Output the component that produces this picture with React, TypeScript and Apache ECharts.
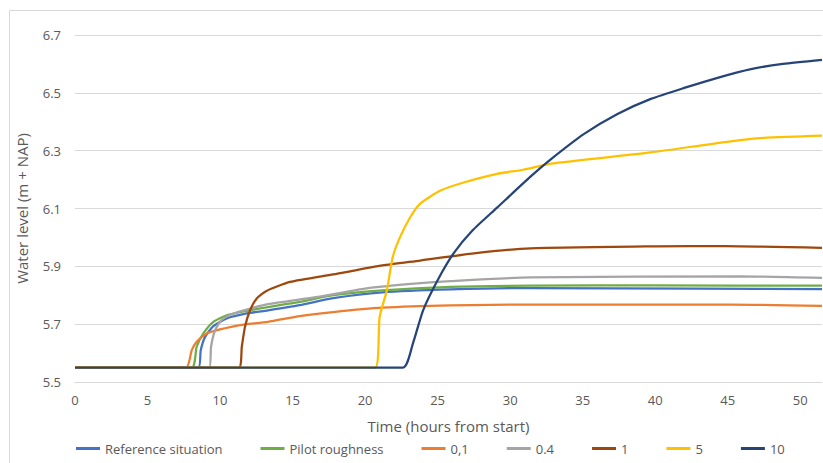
import React, { useEffect, useRef } from "react";
import * as echarts from "echarts";

// Water level (m + NAP) against time (hours from start), one line per roughness case
const refT = [0, 8.5, 8.67, 8.97, 9.54, 10.46, 11.84, 13.3, 15.5, 17.8, 21.2, 25.9, 31.4, 43, 51.5];
const refV = [5.55, 5.55, 5.61, 5.656, 5.693, 5.72, 5.737, 5.748, 5.766, 5.79, 5.81, 5.82, 5.825, 5.823, 5.821];

const pilotT = [0, 8.05, 8.39, 8.85, 9.54, 10.46, 11.84, 13.3, 15.5, 17.8, 21.2, 25.9, 31.4, 40, 51.5];
const pilotV = [5.55, 5.55, 5.622, 5.668, 5.708, 5.731, 5.746, 5.759, 5.777, 5.8, 5.817, 5.829, 5.833, 5.834, 5.833];

const r01T = [0, 7.65, 8.05, 8.39, 9.08, 10.0, 11.38, 13.3, 15.5, 17.8, 21.2, 25.9, 31.4, 45.2, 51.5];
const r01V = [5.55, 5.55, 5.61, 5.639, 5.668, 5.682, 5.697, 5.708, 5.728, 5.742, 5.757, 5.765, 5.768, 5.768, 5.763];

const r04T = [0, 9.26, 9.38, 9.66, 10.1, 10.92, 12.07, 13.3, 16.7, 20.1, 23.6, 25.9, 31.4, 45.9, 51.5];
const r04V = [5.55, 5.55, 5.622, 5.679, 5.714, 5.737, 5.754, 5.769, 5.794, 5.824, 5.841, 5.849, 5.862, 5.865, 5.86];

const r1T = [0, 11.3, 11.5, 11.72, 12.07, 12.53, 13.2, 14.83, 17.8, 21.2, 23.8, 27.5, 31.4, 40, 44.8, 51.5];
const r1V = [5.55, 5.55, 5.622, 5.691, 5.748, 5.789, 5.815, 5.846, 5.872, 5.903, 5.92, 5.945, 5.962, 5.969, 5.97, 5.964];

const r5T = [0, 20.7, 21.0, 21.5, 21.9, 22.4, 23.1, 23.8, 25.2, 26.8, 29.1, 30.9, 32.8, 39.7, 46.6, 51.5];
const r5V = [5.55, 5.55, 5.724, 5.817, 5.931, 6.0, 6.069, 6.117, 6.162, 6.19, 6.22, 6.234, 6.255, 6.294, 6.341, 6.352];

const r10T = [0, 22.6, 23.3, 24.0, 25.0, 26.1, 27.4, 29.1, 31.4, 32.8, 35.1, 37.4, 39.7, 42.0, 44.3, 46.6, 48.8, 51.5];
const r10V = [5.55, 5.55, 5.634, 5.748, 5.852, 5.945, 6.024, 6.103, 6.21, 6.27, 6.358, 6.427, 6.479, 6.517, 6.552, 6.582, 6.6, 6.614];

const seriesNames = ["Reference situation", "Pilot roughness", "0,1", "0.4", "1", "5", "10"];
const seriesColors = ["#4472C4", "#70AD47", "#ED7D31", "#A5A5A5", "#9E480E", "#FFC000", "#264478"];
const seriesTimes = [refT, pilotT, r01T, r04T, r1T, r5T, r10T];
const seriesLevels = [refV, pilotV, r01V, r04V, r1V, r5V, r10V];

const xTicks = [0, 5, 10, 15, 20, 25, 30, 35, 40, 45, 50];
const yTicks = [5.5, 5.7, 5.9, 6.1, 6.3, 6.5, 6.7];

const FONT = "'Open Sans', 'Noto Sans', sans-serif";
const TEXT = "#595959";
const GRID = "#d9d9d9";

export default function App() {
  const ref = useRef<HTMLDivElement>(null);

  useEffect(() => {
    if (!ref.current) return;
    const chart = echarts.init(ref.current, undefined, { renderer: "svg" });

    const series = seriesNames.map((name, i) => ({
      name,
      type: "line" as const,
      data: seriesTimes[i].map((t, k) => [t, seriesLevels[i][k]]),
      showSymbol: false,
      symbol: "none",
      smooth: 0.2,
      lineStyle: { color: seriesColors[i], width: 2.25 },
      itemStyle: { color: seriesColors[i] },
      z: 2 + i,
    }));

    chart.setOption({
      animation: false,
      textStyle: { fontFamily: FONT },
      graphic: [
        {
          type: "rect",
          shape: { x: 9.5, y: 10.5, width: 900, height: 600 },
          style: { fill: "none", stroke: GRID, lineWidth: 1 },
          silent: true,
        },
      ],
      grid: { left: 75, right: 1, top: 35, bottom: 81 },
      legend: {
        bottom: 3,
        left: 71,
        itemGap: 38,
        itemWidth: 24,
        itemHeight: 3,
        icon: "rect",
        data: seriesNames,
        textStyle: { color: TEXT, fontSize: 13, fontFamily: FONT },
      },
      xAxis: {
        type: "value",
        min: 0,
        max: 51.5,
        interval: 5,
        name: "Time (hours from start)",
        nameLocation: "middle",
        nameGap: 36,
        nameTextStyle: { color: TEXT, fontSize: 15, fontFamily: FONT },
        axisLine: { show: true, lineStyle: { color: GRID, width: 1 } },
        axisTick: { show: false },
        splitLine: { show: false },
        axisLabel: {
          color: TEXT,
          fontSize: 13,
          margin: 11,
          showMaxLabel: false,
          formatter: (v: number) => (xTicks.includes(v) ? String(v) : ""),
        },
      },
      yAxis: {
        type: "value",
        min: 5.5,
        max: 6.7,
        interval: 0.1,
        name: "Water level (m + NAP)",
        nameLocation: "middle",
        nameGap: 46,
        nameTextStyle: { color: TEXT, fontSize: 15, fontFamily: FONT },
        axisLine: { show: false },
        axisTick: { show: false },
        splitLine: { show: true, lineStyle: { color: [GRID, "rgba(0,0,0,0)"], width: 1 } },
        axisLabel: {
          color: TEXT,
          fontSize: 13,
          margin: 14,
          formatter: (v: number) => {
            const hit = yTicks.find((t) => Math.abs(t - v) < 1e-6);
            return hit !== undefined ? hit.toFixed(1) : "";
          },
        },
      },
      series,
    });

    return () => chart.dispose();
  }, []);

  return (
    <div
      ref={ref}
      style={{ position: "absolute", left: 0, top: 0, width: 823, height: 463, background: "#fff" }}
    />
  );
}
